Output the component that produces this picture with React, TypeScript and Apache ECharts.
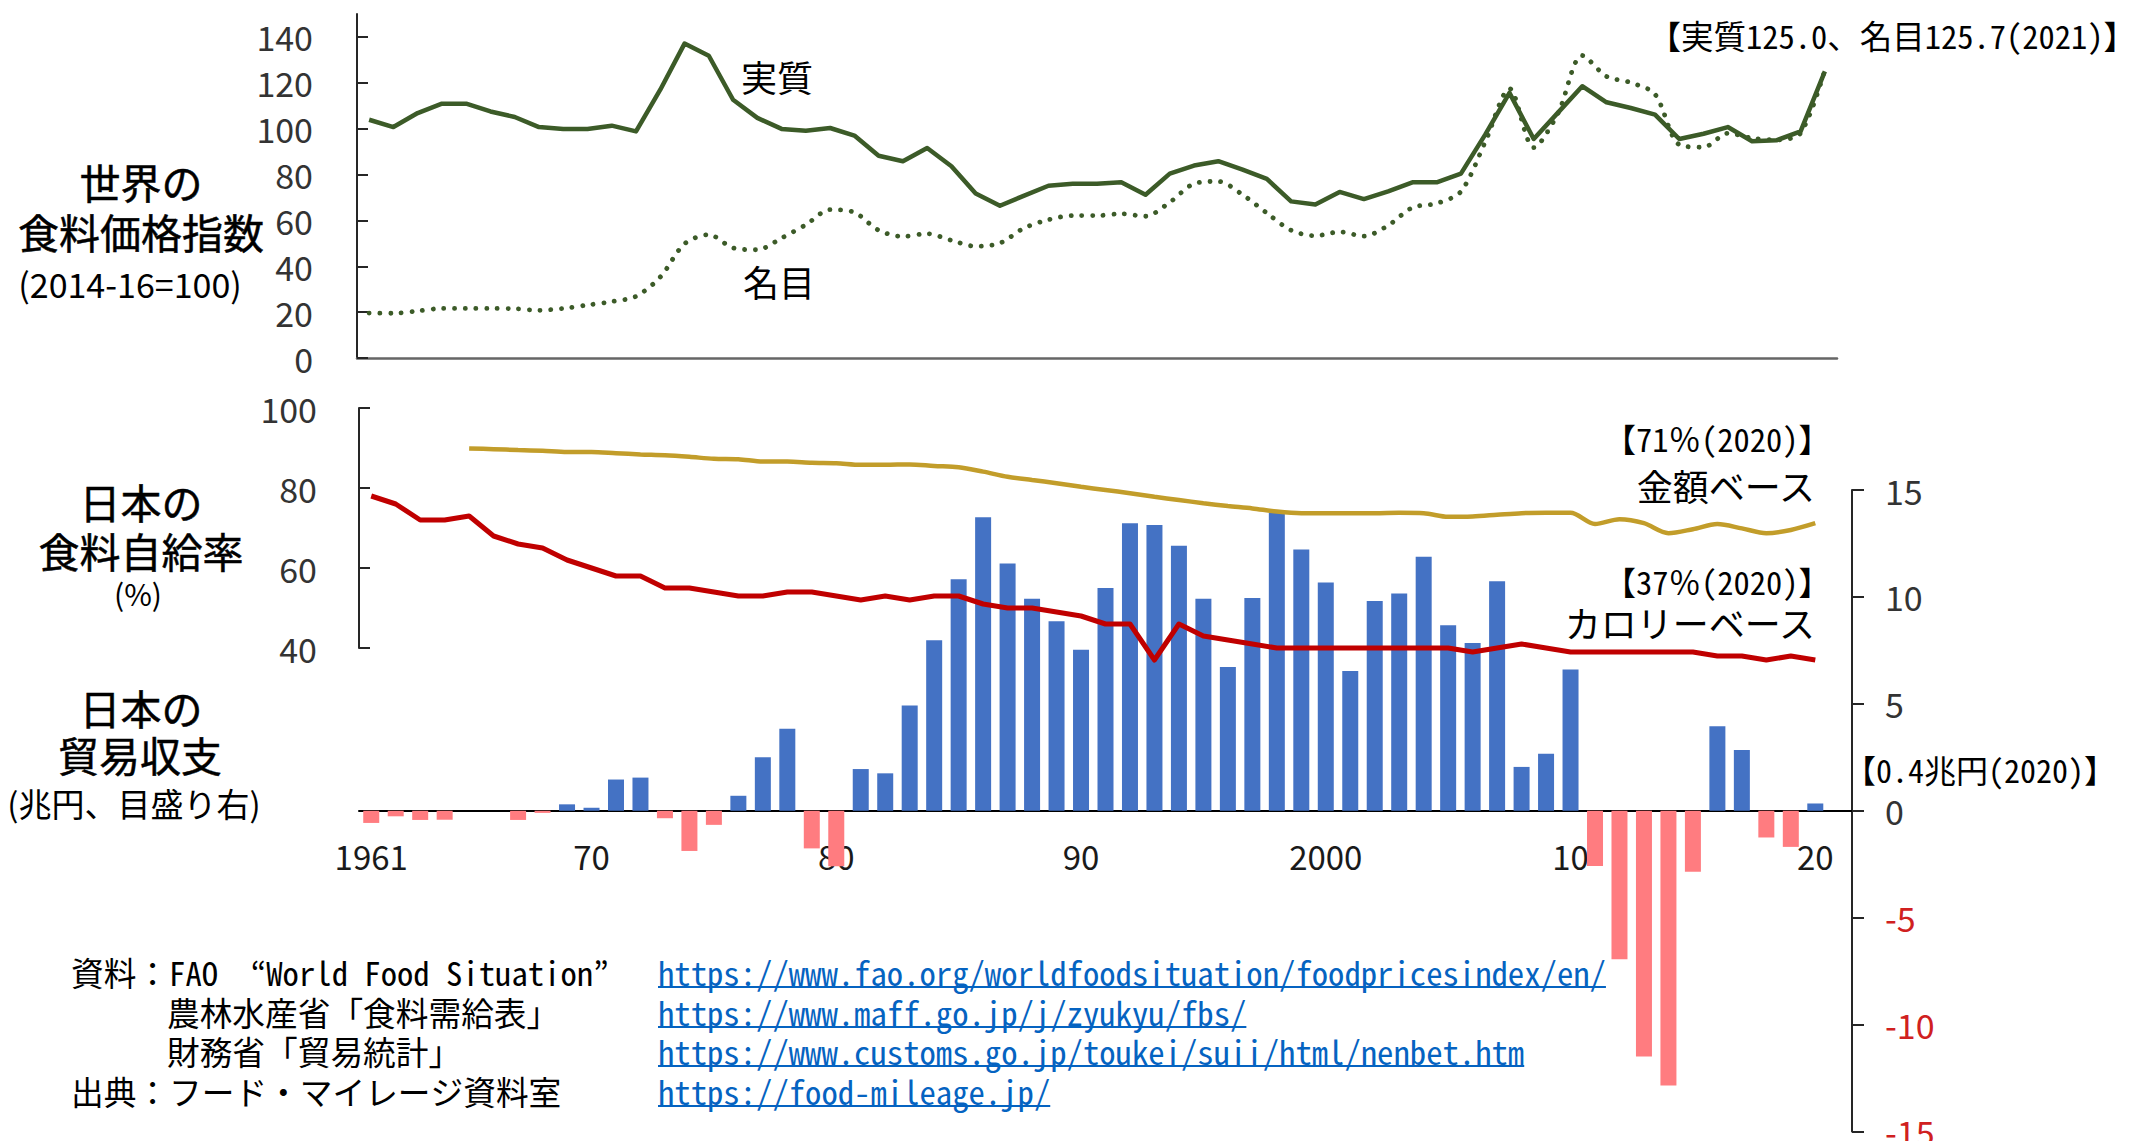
import React, { useEffect, useRef } from "react";
import * as echarts from "echarts";

// ---- categories ----
const years = [
  "1961","1962","1963","1964","1965","1966","1967","1968","1969","1970",
  "1971","1972","1973","1974","1975","1976","1977","1978","1979","1980",
  "1981","1982","1983","1984","1985","1986","1987","1988","1989","1990",
  "1991","1992","1993","1994","1995","1996","1997","1998","1999","2000",
  "2001","2002","2003","2004","2005","2006","2007","2008","2009","2010",
  "2011","2012","2013","2014","2015","2016","2017","2018","2019","2020",
  "2021",
];

// ---- world food price index (2014-16=100) ----
const realIndex = [
  103.9, 100.7, 106.8, 110.9, 110.9, 107.5, 105.1, 100.7, 99.9, 99.9,
  101.3, 98.8, 117.0, 137.1, 131.8, 112.6, 104.7, 99.9, 99.1, 100.3,
  97.0, 88.2, 85.8, 91.6, 83.6, 71.7, 66.4, 70.8, 75.1, 76.0,
  76.0, 76.6, 71.2, 80.4, 83.9, 85.8, 82.1, 78.1, 68.3, 66.9,
  72.4, 69.3, 72.7, 76.6, 76.6, 80.4, 97.4, 115.6, 95.5, 107.0,
  118.5, 111.5, 109.0, 106.1, 95.5, 97.8, 100.7, 94.5, 94.9, 98.8,
  125.0,
];
const nominalIndex = [
  19.6, 19.5, 20.5, 21.6, 21.6, 21.6, 21.5, 20.8, 21.6, 23.1,
  24.6, 26.9, 35.3, 49.8, 53.8, 48.0, 47.2, 52.3, 58.1, 64.7,
  63.5, 55.7, 53.0, 54.2, 51.3, 48.7, 50.1, 56.7, 60.3, 62.1,
  62.1, 62.9, 61.8, 67.9, 76.0, 77.0, 71.2, 63.2, 55.7, 53.3,
  55.0, 53.1, 57.8, 65.6, 67.4, 72.6, 94.2, 117.5, 91.7, 106.7,
  131.9, 122.8, 120.1, 115.0, 93.0, 91.9, 98.0, 95.9, 95.1, 98.1,
  125.7,
];

// ---- Japan food self-sufficiency (%) ----
const calorieRate = [
  78, 76, 72, 72, 73, 68, 66, 65, 62, 60,
  58, 58, 55, 55, 54, 53, 53, 54, 54, 53,
  52, 53, 52, 53, 53, 51, 50, 50, 49, 48,
  46, 46, 37, 46, 43, 42, 41, 40, 40, 40,
  40, 40, 40, 40, 40, 39, 40, 41, 40, 39,
  39, 39, 39, 39, 39, 38, 38, 37, 38, 37,
  null,
];
const monetaryRate = [
  null, null, null, null, 89.9, 89.7, 89.5, 89.3, 89.0, 89.0,
  88.7, 88.4, 88.2, 87.8, 87.3, 87.2, 86.6, 86.6, 86.3, 86.2,
  85.8, 85.8, 85.9, 85.5, 85.2, 84.1, 82.8, 82.0, 81.2, 80.3,
  79.5, 78.7, 77.8, 77.0, 76.2, 75.5, 74.9, 74.1, 73.7, 73.7,
  73.7, 73.7, 73.8, 73.7, 72.8, 72.9, 73.3, 73.7, 73.8, 73.8,
  71.0, 72.2, 71.2, 68.7, 69.7, 71.0, 69.9, 68.7, 69.5, 71.2,
  null,
];

// ---- Japan trade balance (trillion yen) ----
const tradeBalance = [
  -0.57, -0.26, -0.43, -0.42, 0, 0, -0.43, -0.1, 0.3, 0.14,
  1.46, 1.55, -0.35, -1.88, -0.66, 0.7, 2.5, 3.83, -1.76, -2.6,
  1.95, 1.75, 4.92, 7.97, 10.83, 13.72, 11.56, 9.92, 8.86, 7.53,
  10.42, 13.44, 13.36, 12.39, 9.92, 6.72, 9.95, 13.95, 12.22, 10.67,
  6.53, 9.81, 10.16, 11.88, 8.67, 7.84, 10.73, 2.05, 2.66, 6.61,
  -2.58, -6.94, -11.49, -12.85, -2.85, 3.95, 2.84, -1.25, -1.69, 0.34,
  null,
];

// ---- tick labels ----
const priceTicks = [0, 20, 40, 60, 80, 100, 120, 140];
const labelYears = ["1961", "1970", "1980", "1990", "2000", "2010", "2020"];

const urls = [
  "https://www.fao.org/worldfoodsituation/foodpricesindex/en/",
  "https://www.maff.go.jp/j/zyukyu/fbs/",
  "https://www.customs.go.jp/toukei/suii/html/nenbet.htm",
  "https://food-mileage.jp/",
];

const SANS = "'Noto Sans CJK JP', 'Noto Sans', sans-serif";
const MONO = "'Noto Sans Mono CJK JP', 'Noto Sans CJK JP', monospace";

const GREEN = "#3C5B28";
const GOLD = "#C29D2A";
const RED = "#C00000";
const BLUE = "#4472C4";
const PINK = "#FF7C80";
const AXIS = "#262626";
const LINK = "#0563C1";

export default function App() {
  const ref = useRef<HTMLDivElement>(null);

  useEffect(() => {
    if (!ref.current) return;
    const chart = echarts.init(ref.current, null, { renderer: "svg" });

    const txt = (
      text: string,
      x: number,
      y: number,
      size: number,
      align: string,
      family: string,
      fill = "#000",
      thicken = 0
    ) => ({
      type: "text",
      x,
      y,
      silent: true,
      z: 100,
      style: {
        text,
        fontSize: size,
        fontFamily: family,
        fontWeight: "normal",
        fill,
        stroke: thicken > 0 ? fill : "none",
        lineWidth: thicken,
        textAlign: align,
        textVerticalAlign: "middle",
      },
    });

    const ctx = document.createElement("canvas").getContext("2d")!;
    const footSize = 32.7;
    ctx.font = `${footSize}px ${MONO}`;
    const urlY = [971, 1011, 1050, 1090];
    const urlX = 658;
    const T = 0.5;

    const graphics: any[] = [
      txt("【実質125.0、名目125.7(2021)】", 2136, 34, 32.5, "right", MONO),
      txt("実質", 741, 76, 36, "left", SANS),
      txt("名目", 743, 281, 36, "left", SANS),
      txt("世界の", 141, 181, 41, "center", SANS, "#000", T),
      txt("食料価格指数", 141, 231, 41, "center", SANS, "#000", T),
      txt("(2014-16=100)", 130, 283, 34, "center", SANS),
      txt("日本の", 141, 501, 41, "center", SANS, "#000", T),
      txt("食料自給率", 141, 550, 41, "center", SANS, "#000", T),
      txt("(%)", 138, 593, 30, "center", SANS),
      txt("日本の", 141, 707, 41, "center", SANS, "#000", T),
      txt("貿易収支", 140, 754, 41, "center", SANS, "#000", T),
      txt("(兆円、目盛り右)", 134, 803, 33, "center", SANS),
      txt("【71％(2020)】", 1831, 437, 32.5, "right", MONO),
      txt("金額ベース", 1815, 485, 36, "right", SANS),
      txt("【37％(2020)】", 1831, 580, 32.5, "right", MONO),
      txt("カロリーベース", 1815, 622, 36, "right", SANS),
      txt("【0.4兆円(2020)】", 1844, 769, 32, "left", MONO),
      txt("資料：FAO  “World Food Situation”", 71, 971, footSize, "left", MONO),
      txt("農林水産省「食料需給表」", 167, 1011, footSize, "left", MONO),
      txt("財務省「貿易統計」", 167, 1050, footSize, "left", MONO),
      txt("出典：フード・マイレージ資料室", 71, 1090, footSize, "left", MONO),
    ];
    urls.forEach((u, i) => {
      graphics.push(txt(u, urlX, urlY[i], footSize, "left", MONO, LINK));
      const w = ctx.measureText(u).width;
      graphics.push({
        type: "line",
        silent: true,
        z: 100,
        shape: { x1: urlX, y1: urlY[i] + 16, x2: urlX + w, y2: urlY[i] + 16 },
        style: { stroke: LINK, lineWidth: 2 },
      });
    });

    const tickFont = { fontSize: 34, fontFamily: SANS, color: "#333" };

    const option: any = {
      animation: false,
      backgroundColor: "#fff",
      grid: [
        { left: 357, right: 299, top: 14, bottom: 783, outerBoundsMode: "none", containLabel: false },
        { left: 359, right: 284, top: 408, bottom: 493, outerBoundsMode: "none", containLabel: false },
        { left: 359, right: 284, top: 490, bottom: 9.5, outerBoundsMode: "none", containLabel: false },
        { left: 359, right: 284, top: 700, bottom: 331, outerBoundsMode: "none", containLabel: false },
      ],
      xAxis: [
        {
          type: "category",
          gridIndex: 0,
          data: years,
          boundaryGap: true,
          axisLine: { show: true, lineStyle: { color: "#666", width: 2.5 } },
          axisTick: { show: false },
          axisLabel: { show: false },
          splitLine: { show: false },
        },
        {
          type: "category",
          gridIndex: 1,
          data: years,
          boundaryGap: true,
          show: false,
        },
        {
          type: "category",
          gridIndex: 2,
          data: years,
          boundaryGap: true,
          axisLine: { show: true, onZero: true, lineStyle: { color: "#000", width: 2 } },
          axisTick: { show: false },
          axisLabel: { show: false },
          splitLine: { show: false },
        },
        {
          type: "category",
          gridIndex: 3,
          data: years,
          boundaryGap: true,
          axisLine: { show: false, onZero: false },
          axisTick: { show: false },
          splitLine: { show: false },
          axisLabel: {
            interval: (_i: number, v: string) => labelYears.includes(v),
            formatter: (v: string) => (v === "1961" || v === "2000" ? v : v.slice(2)),
            margin: 29,
            fontSize: 33,
            fontFamily: SANS,
            color: "#1a1a1a",
          },
        },
      ],
      yAxis: [
        {
          type: "value",
          gridIndex: 0,
          min: 0,
          max: 150,
          interval: 10,
          axisLine: { show: true, lineStyle: { color: AXIS, width: 2 } },
          axisTick: { show: true, inside: true, length: 11, customValues: priceTicks, lineStyle: { color: AXIS, width: 2 } },
          axisLabel: { customValues: priceTicks, margin: 44, ...tickFont },
          splitLine: { show: false },
        },
        {
          type: "value",
          gridIndex: 1,
          min: 40,
          max: 100,
          interval: 20,
          axisLine: { show: true, lineStyle: { color: AXIS, width: 2 } },
          axisTick: { show: true, inside: true, length: 11, lineStyle: { color: AXIS, width: 2 } },
          axisLabel: { margin: 42, ...tickFont },
          splitLine: { show: false },
        },
        {
          type: "value",
          gridIndex: 2,
          position: "right",
          min: -15,
          max: 15,
          interval: 5,
          axisLine: { show: true, lineStyle: { color: AXIS, width: 2 } },
          axisTick: { show: true, inside: false, length: 12, lineStyle: { color: AXIS, width: 2 } },
          axisLabel: {
            margin: 33,
            fontSize: 34,
            fontFamily: SANS,
            color: (v: any) => (Number(v) < 0 ? "#D02020" : "#333"),
          },
          splitLine: { show: false },
        },
        {
          type: "value",
          gridIndex: 3,
          min: 0,
          max: 1,
          show: false,
        },
      ],
      series: [
        {
          name: "貿易収支",
          type: "bar",
          xAxisIndex: 2,
          yAxisIndex: 2,
          data: tradeBalance,
          barWidth: 16,
          z: 1,
          itemStyle: { color: (p: any) => (Number(p.value) < 0 ? PINK : BLUE) },
        },
        {
          name: "金額ベース",
          type: "line",
          xAxisIndex: 1,
          yAxisIndex: 1,
          data: monetaryRate,
          smooth: 0.3,
          symbol: "none",
          clip: false,
          z: 3,
          lineStyle: { color: GOLD, width: 4.5 },
        },
        {
          name: "カロリーベース",
          type: "line",
          xAxisIndex: 1,
          yAxisIndex: 1,
          data: calorieRate,
          symbol: "none",
          clip: false,
          z: 4,
          lineStyle: { color: RED, width: 5, join: "round" },
        },
        {
          name: "名目",
          type: "line",
          xAxisIndex: 0,
          yAxisIndex: 0,
          data: nominalIndex,
          smooth: 0.3,
          symbol: "none",
          z: 3,
          lineStyle: { color: GREEN, width: 4.8, type: [0.1, 10.6], cap: "round" },
        },
        {
          name: "実質",
          type: "line",
          xAxisIndex: 0,
          yAxisIndex: 0,
          data: realIndex,
          symbol: "none",
          z: 4,
          lineStyle: { color: GREEN, width: 4.5, join: "round" },
        },
      ],
      graphic: graphics,
    };

    chart.setOption(option);
    return () => chart.dispose();
  }, []);

  return (
    <div
      ref={ref}
      style={{ position: "absolute", left: 0, top: 0, width: 2136, height: 1141 }}
    />
  );
}
